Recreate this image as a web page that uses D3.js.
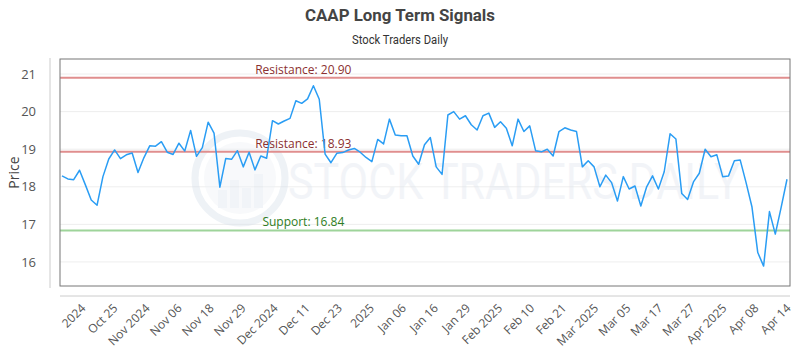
<!DOCTYPE html>
<html>
<head>
<meta charset="utf-8">
<script src="https://cdn.jsdelivr.net/npm/d3@7"></script>
<style>
  body { margin: 0; background: #fff; }
  svg { font-family: "Open Sans", sans-serif; }
  .tick text { fill: #555; }
</style>
</head>
<body>
<svg id="chart" width="800" height="350"></svg>
<script>
// closing prices, one per trading day (Oct 2024 - Apr 14 2025)
var prices = [18.29, 18.21, 18.19, 18.44, 18.05, 17.65, 17.51, 18.27, 18.74, 18.98,
  18.75, 18.85, 18.90, 18.38, 18.77, 19.09, 19.08, 19.20, 18.92, 18.86,
  19.16, 18.95, 19.50, 18.81, 19.04, 19.72, 19.43, 17.99, 18.75, 18.73,
  18.96, 18.53, 18.92, 18.45, 18.82, 18.76, 19.76, 19.67, 19.75, 19.82,
  20.29, 20.22, 20.34, 20.69, 20.33, 18.87, 18.64, 18.89, 18.91, 18.98,
  19.02, 18.92, 18.78, 18.67, 19.26, 19.14, 19.80, 19.38, 19.36, 19.36,
  18.82, 18.60, 19.12, 19.31, 18.53, 18.33, 19.91, 20.00, 19.80, 19.89,
  19.65, 19.51, 19.89, 19.96, 19.58, 19.73, 19.56, 19.09, 19.80, 19.47,
  19.62, 18.96, 18.93, 19.00, 18.82, 19.47, 19.57, 19.51, 19.47, 18.53,
  18.69, 18.53, 18.00, 18.31, 18.11, 17.62, 18.27, 17.94, 18.02, 17.49,
  18.00, 18.29, 17.94, 18.40, 19.41, 19.27, 17.82, 17.66, 18.13, 18.36,
  19.00, 18.80, 18.85, 18.27, 18.29, 18.69, 18.71, 18.11, 17.47, 16.25,
  15.89, 17.34, 16.74, 17.45, 18.20];

var tickLabels = ["2024", "Oct 25", "Nov 2024", "Nov 06", "Nov 18", "Nov 29", "Dec 2024",
  "Dec 11", "Dec 23", "2025", "Jan 06", "Jan 16", "Jan 29", "Feb 2025", "Feb 10",
  "Feb 21", "Mar 2025", "Mar 05", "Mar 17", "Mar 27", "Apr 2025", "Apr 08", "Apr 14"];

var yTicks = [16, 17, 18, 19, 20, 21];

var levels = [
  { name: "Resistance", value: 20.90, kind: "res" },
  { name: "Resistance", value: 18.93, kind: "res" },
  { name: "Support", value: 16.84, kind: "sup" }
];

var margin = {top: 59, right: 10, bottom: 64, left: 60};
var width = 800 - margin.left - margin.right,
    height = 350 - margin.top - margin.bottom;

var svg = d3.select("#chart");

// title + subtitle
svg.append("text")
  .attr("x", 400).attr("y", 21)
  .attr("text-anchor", "middle")
  .style("font-family", "Roboto, sans-serif")
  .style("font-size", "17px")
  .style("font-weight", "bold")
  .attr("fill", "#444")
  .attr("textLength", 190)
  .attr("lengthAdjust", "spacingAndGlyphs")
  .text("CAAP Long Term Signals");

svg.append("text")
  .attr("x", 400).attr("y", 44)
  .attr("text-anchor", "middle")
  .style("font-family", "Roboto, sans-serif")
  .style("font-size", "12px")
  .attr("fill", "#333")
  .attr("textLength", 96)
  .attr("lengthAdjust", "spacingAndGlyphs")
  .text("Stock Traders Daily");

var g = svg.append("g").attr("transform", "translate(" + margin.left + "," + margin.top + ")");

var x = d3.scaleLinear()
  .domain([0, prices.length - 1])
  .range([2, width - 3]);

var y = d3.scaleLinear()
  .domain([15.36, 21.4])
  .range([height, 0]);

// labels sit evenly along the axis
var xLab = d3.scalePoint()
  .domain(tickLabels)
  .range([x(3.4), x(prices.length - 1)]);

// grid
g.selectAll(".grid")
  .data(yTicks)
  .enter().append("line")
    .attr("class", "grid")
    .attr("x1", 0).attr("x2", width)
    .attr("y1", function(d) { return y(d); })
    .attr("y2", function(d) { return y(d); })
    .attr("stroke", "#eeeeee")
    .attr("stroke-width", 1);

// watermark
var wm = g.append("g").attr("opacity", 0.4);
wm.append("circle")
  .attr("cx", 180).attr("cy", 119).attr("r", 45)
  .attr("fill", "none").attr("stroke", "#d5dfea").attr("stroke-width", 7);
wm.append("circle")
  .attr("cx", 180).attr("cy", 119).attr("r", 36)
  .attr("fill", "#eef2f6");
[[-22, 18], [-10, 28], [2, 20], [14, 34]].forEach(function(b) {
  wm.append("rect")
    .attr("x", 180 + b[0]).attr("y", 119 + 30 - b[1])
    .attr("width", 9).attr("height", b[1])
    .attr("fill", "#dde5ee");
});
wm.append("text")
  .attr("x", 228).attr("y", 140)
  .style("font-family", "Roboto, sans-serif")
  .style("font-size", "50px")
  .attr("fill", "#dfe6ee")
  .attr("textLength", 452)
  .attr("lengthAdjust", "spacingAndGlyphs")
  .text("STOCK TRADERS DAILY");

// support / resistance
g.selectAll(".level")
  .data(levels)
  .enter().append("line")
    .attr("class", "level")
    .attr("x1", 0).attr("x2", width)
    .attr("y1", function(d) { return y(d.value); })
    .attr("y2", function(d) { return y(d.value); })
    .attr("stroke", function(d) { return d.kind == "res" ? "#e08e8e" : "#9ed49a"; })
    .attr("stroke-width", 2);

g.selectAll(".levelText")
  .data(levels)
  .enter().append("text")
    .attr("class", "levelText")
    .attr("x", width / 3)
    .attr("y", function(d) { return y(d.value) - 4; })
    .attr("text-anchor", "middle")
    .style("font-size", "12px")
    .attr("fill", function(d) { return d.kind == "res" ? "#8b3030" : "#2e7d22"; })
    .text(function(d) { return d.name + ": " + d.value.toFixed(2); });

// price line
var line = d3.line()
  .x(function(d, i) { return x(i); })
  .y(function(d) { return y(d); });

g.append("path")
  .datum(prices)
  .attr("fill", "none")
  .attr("stroke", "#2a9df4")
  .attr("stroke-width", 1.5)
  .attr("stroke-linejoin", "round")
  .attr("d", line);

// plot frame
g.append("rect")
  .attr("x", 0).attr("y", 0)
  .attr("width", width).attr("height", height)
  .attr("fill", "none")
  .attr("stroke", "#777")
  .attr("stroke-width", 1);

// y axis (separate, to the left of the frame)
var yAxis = svg.append("g")
  .attr("class", "axis axis--y")
  .attr("transform", "translate(50," + margin.top + ")")
  .call(d3.axisLeft(y).tickValues(yTicks).tickFormat(d3.format("d")).tickSize(0).tickPadding(14));
yAxis.select(".domain").attr("stroke", "#ccc").attr("d", "M0,-1V" + (height + 2));
yAxis.selectAll("text").style("font-size", "13px").style("font-family", "Open Sans, sans-serif");

svg.append("text")
  .attr("transform", "translate(19," + (margin.top + height / 2) + ") rotate(-90)")
  .attr("text-anchor", "middle")
  .style("font-size", "14px")
  .attr("fill", "#444")
  .text("Price");

// x axis
var xAxis = svg.append("g")
  .attr("class", "axis axis--x")
  .attr("transform", "translate(" + margin.left + "," + (margin.top + height + 10) + ")")
  .call(d3.axisBottom(xLab).tickSize(0).tickPadding(0));
xAxis.select(".domain").attr("stroke", "#ccc").attr("d", "M0,0H" + width);
xAxis.selectAll("text")
  .style("font-size", "12px")
  .style("font-family", "Open Sans, sans-serif")
  .attr("text-anchor", "end")
  .attr("dy", "0")
  .attr("transform", "translate(4,13) rotate(-45)");
</script>
</body>
</html>
